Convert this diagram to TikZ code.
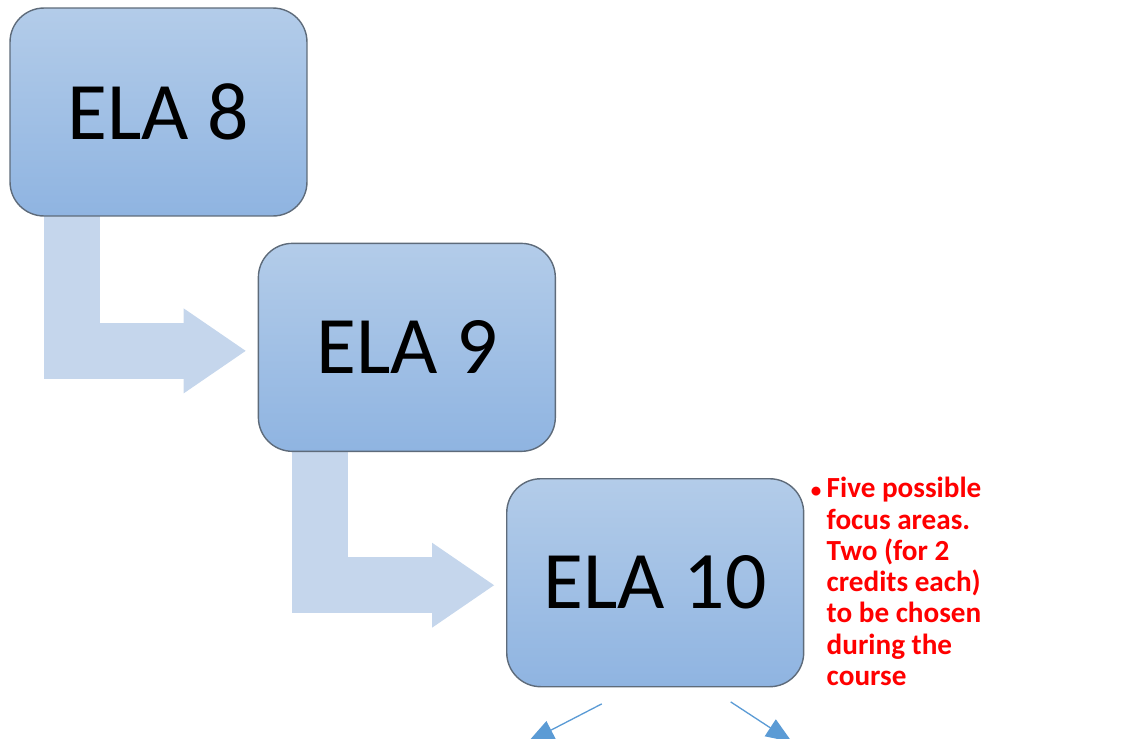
\documentclass[tikz,border=0pt]{standalone}
\usepackage{fontspec}
\setmainfont{Carlito}
\usepackage{tikz}
\usetikzlibrary{positioning,calc,arrows.meta,backgrounds}

\definecolor{boxtop}{HTML}{B3CCE9}
\definecolor{boxbottom}{HTML}{8FB4E1}
\definecolor{boxline}{HTML}{5E6B7A}
\definecolor{flowfill}{HTML}{C5D6EC}
\definecolor{notered}{HTML}{FF0000}
\definecolor{linkblue}{HTML}{5B9BD5}

\begin{document}
\begin{tikzpicture}[x=0.02cm,y=-0.02cm,
    grade/.style={draw=boxline,line width=0.8pt,rounded corners=0.68cm,top color=boxtop,bottom color=boxbottom,
        minimum width=5.94cm,minimum height=4.16cm,inner sep=0pt,font=\fontsize{46.5}{50}\selectfont},
    flow/.style={draw=flowfill,line width=1.12cm,-{Triangle[length=1.24cm 0 0,width=1.7cm 0 0,line width=0pt]}},
    link/.style={draw=linkblue,line width=0.75pt,-{Triangle[length=0.52cm 0 0,width=0.4cm 0 0]}},
    note/.style={text=notered,align=left,inner sep=0pt,font=\fontsize{16.6}{17.8}\selectfont\bfseries}]
        \useasboundingbox (0,0) rectangle (1134,738);
        \clip (0,0) rectangle (1134,738);

        \node[grade] (ela8) at (158.5,112) {ELA 8};
        \node[grade,below right=0.52cm and -1cm of ela8] (ela9) {ELA 9};
        \node[grade,below right=0.52cm and -1cm of ela9] (ela10) {ELA 10};

        % bent arrows behind the boxes
        \begin{scope}[on background layer]
            \draw[flow] ($(ela8.south west)+(62.5,-4)$) |- ($(ela9.west)+(-12,3.5)$);
            \draw[flow] ($(ela9.south west)+(62.5,-4)$) |- ($(ela10.west)+(-12,2.5)$);
        \end{scope}

        \node[note,anchor=north west] (focus) at ($(ela10.north east)+(22,-1)$)
            {\llap{{\fontsize{12}{12}\selectfont\textbullet}\hspace{3pt}}Five possible\\focus areas.\\Two (for 2\\credits each)\\to be chosen\\during the\\course};

        % the two focus areas (cut off below)
        \coordinate (pickA) at ($(ela10.south)+(-53.5,16.5)$);
        \coordinate (endA) at (528,742);
        \coordinate (pickB) at ($(ela10.south)+(75.5,14.5)$);
        \coordinate (endB) at (792,742);
        \draw[link] (pickA) -- (endA);
        \draw[link] (pickB) -- (endB);
    \end{tikzpicture}
\end{document}
